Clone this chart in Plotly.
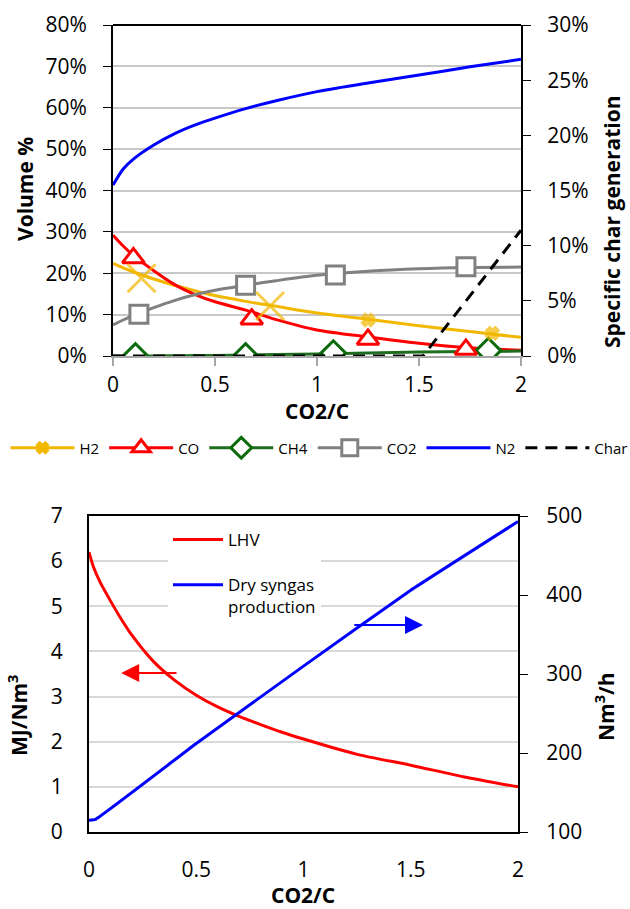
import plotly.graph_objects as go

# ---------------- data: gas composition vs CO2/C ----------------
x_model = [0, 0.05, 0.1, 0.2, 0.3, 0.4, 0.5, 0.65, 0.8, 1.0, 1.25, 1.5, 1.75, 2.0]
h2_model = [22.4, 21.3, 20.3, 18.6, 17.1, 15.8, 14.6, 13.2, 12.0, 10.4, 8.9, 7.3, 5.9, 4.5]
co_model = [29.2, 26.6, 24.3, 20.6, 17.3, 14.9, 13.1, 11.1, 8.8, 6.3, 4.6, 3.1, 2.0, 1.4]
ch4_model = [0, 0, 0, 0.02, 0.05, 0.1, 0.15, 0.25, 0.35, 0.5, 0.75, 0.95, 1.1, 1.2]
co2_model = [7.5, 8.7, 9.8, 11.7, 13.4, 14.8, 15.9, 17.1, 18.2, 19.5, 20.5, 21.1, 21.4, 21.5]
n2_model = [41.3, 45.2, 47.6, 51.0, 53.7, 55.8, 57.5, 59.8, 61.7, 63.9, 66.0, 67.9, 69.9, 71.7]

char_x = [0, 0.5, 1.0, 1.52, 2.0]
char_gen = [0, 0, 0, 0, 11.4]

h2_pts_x = [0.14, 0.77, 1.25, 1.86]
h2_pts_y = [18.8, 12.1, 8.7, 5.5]
co_pts_x = [0.10, 0.68, 1.25, 1.73]
co_pts_y = [23.7, 8.9, 4.0, 1.6]
ch4_pts_x = [0.11, 0.65, 1.08, 1.84]
ch4_pts_y = [0, 0, 0.7, 1.3]
co2_pts_x = [0.127, 0.65, 1.09, 1.73]
co2_pts_y = [10.1, 17.1, 19.6, 21.6]

# ---------------- data: LHV and dry syngas vs CO2/C ----------------
x_lhv = [0, 0.02, 0.05, 0.1, 0.15, 0.2, 0.3, 0.4, 0.5, 0.6, 0.7, 0.8, 0.9, 1.0, 1.25, 1.5, 1.75, 2.0]
lhv = [6.2, 5.88, 5.55, 5.12, 4.72, 4.36, 3.78, 3.36, 3.03, 2.77, 2.56, 2.38, 2.21, 2.06, 1.72, 1.48, 1.22, 1.0]
x_syngas = [0, 0.03, 0.5, 1.0, 1.5, 2.0]
syngas = [115, 116, 212, 310, 406, 493]

x_ticks = [0, 0.5, 1, 1.5, 2]
x_ticktext = ["0", "0.5", "1", "1.5", "2"]

FONT = "Open Sans, Calibri, sans-serif"
YELLOW = "#F2B800"
RED = "#FF0000"
GREEN = "#1F6E1F"
GREEN_MK = "#0B6B0B"
GRAY = "#808080"
BLUE = "#0000FF"
W, H = 630, 909


def px_x(p):
    return p / W


def px_y(p):
    return 1 - p / H


fig = go.Figure()

# ---- top panel: model curves ----
curves = [
    (h2_model, YELLOW), (co_model, RED), (ch4_model, GREEN),
    (co2_model, GRAY), (n2_model, BLUE),
]
for ys, col in curves:
    fig.add_trace(go.Scatter(x=x_model, y=ys, mode="lines",
                             line=dict(color=col, width=3, shape="spline", smoothing=0.8),
                             showlegend=False, xaxis="x", yaxis="y", hoverinfo="skip"))

fig.add_trace(go.Scatter(x=char_x, y=char_gen, mode="lines",
                         line=dict(color="black", width=3, dash="12px,8px"),
                         showlegend=False, xaxis="x", yaxis="y2"))

# ---- top panel: markers ----
fig.add_trace(go.Scatter(x=ch4_pts_x, y=ch4_pts_y, mode="markers",
                         marker=dict(symbol="diamond", size=19, color="white",
                                     line=dict(color=GREEN_MK, width=3)),
                         showlegend=False, xaxis="x", yaxis="y"))
fig.add_trace(go.Scatter(x=co2_pts_x, y=co2_pts_y, mode="markers",
                         marker=dict(symbol="square", size=18, color="white",
                                     line=dict(color=GRAY, width=3)),
                         showlegend=False, xaxis="x", yaxis="y"))
fig.add_trace(go.Scatter(x=co_pts_x, y=co_pts_y, mode="markers",
                         marker=dict(symbol="triangle-up", size=19, color="white",
                                     line=dict(color=RED, width=3)),
                         showlegend=False, xaxis="x", yaxis="y"))
fig.add_trace(go.Scatter(x=h2_pts_x, y=h2_pts_y, mode="markers",
                         marker=dict(symbol=["x-thin", "x-thin", "x", "x"],
                                     size=[28, 28, 10, 10], color=YELLOW,
                                     line=dict(color=YELLOW, width=3)),
                         showlegend=False, xaxis="x", yaxis="y"))

# ---- top legend entries ----
legend_items = [
    ("H2", YELLOW, dict(symbol="x", size=10, color=YELLOW, line=dict(color=YELLOW, width=2)), "solid", "lines+markers"),
    ("CO", RED, dict(symbol="triangle-up", size=18, color="white", line=dict(color=RED, width=3)), "solid", "lines+markers"),
    ("CH4", GREEN, dict(symbol="diamond", size=18, color="white", line=dict(color=GREEN_MK, width=3)), "solid", "lines+markers"),
    ("CO2", GRAY, dict(symbol="square", size=16, color="white", line=dict(color=GRAY, width=3)), "solid", "lines+markers"),
    ("N2", BLUE, None, "solid", "lines"),
    ("Char", "black", None, "12px,8px", "lines"),
]
for name, col, mk, dash, mode in legend_items:
    kw = dict(x=[None], y=[None], mode=mode, name=name,
              line=dict(color=col, width=3, dash=dash),
              xaxis="x", yaxis="y", legend="legend")
    if mk:
        kw["marker"] = mk
    fig.add_trace(go.Scatter(**kw))

# ---- bottom panel ----
fig.add_trace(go.Scatter(x=x_lhv, y=lhv, mode="lines", name="LHV", legendgroup="lhv",
                         line=dict(color=RED, width=3, shape="spline", smoothing=0.6),
                         xaxis="x2", yaxis="y3", legend="legend2"))
fig.add_trace(go.Scatter(x=x_syngas, y=syngas, mode="lines", name="Dry syngas<br>production",
                         legendgroup="syngas",
                         line=dict(color=BLUE, width=3, shape="spline", smoothing=0.3),
                         xaxis="x2", yaxis="y4", legend="legend2"))

tick_font = dict(family=FONT, size=21, color="black")

fig.update_layout(
    width=W, height=H,
    margin=dict(l=0, r=0, t=0, b=0, autoexpand=False),
    paper_bgcolor="white", plot_bgcolor="white",
    font=dict(family=FONT, color="black"),
    xaxis=dict(domain=[px_x(113), px_x(521)], range=[0, 2], anchor="y", automargin=False,
               tickvals=x_ticks, ticktext=x_ticktext, tickfont=tick_font,
               showgrid=False, zeroline=False, showline=True, linecolor="#A6A6A6", linewidth=1.5,
               ticks="outside", ticklen=8, tickcolor="#A6A6A6", tickwidth=1.5,
               ticklabelstandoff=1),
    yaxis=dict(domain=[px_y(356), px_y(25)], range=[0, 80], anchor="x", automargin=False,
               dtick=10, ticksuffix="%", tickfont=tick_font,
               showgrid=True, gridcolor="#C8C8C8", gridwidth=1.5, zeroline=False,
               showline=True, linecolor="black", linewidth=2,
               ticks="outside", ticklen=8, tickcolor="black", ticklabelstandoff=12),
    yaxis2=dict(range=[0, 30], overlaying="y", side="right", anchor="x", automargin=False,
                dtick=5, ticksuffix="%", tickfont=tick_font, showgrid=False, zeroline=False,
                showline=True, linecolor="black", linewidth=2,
                ticks="outside", ticklen=8, tickcolor="black", ticklabelstandoff=12),
    xaxis2=dict(domain=[px_x(89), px_x(518)], range=[0, 2], anchor="y3", automargin=False,
                tickvals=x_ticks, ticktext=x_ticktext, tickfont=tick_font,
                showgrid=False, zeroline=False, showline=True, mirror=True,
                linecolor="black", linewidth=2, ticks="", ticklabelstandoff=18),
    yaxis3=dict(domain=[px_y(832), px_y(516)], range=[0, 7], anchor="x2", automargin=False,
                dtick=1, tickfont=tick_font, showgrid=True, gridcolor="#D9D9D9", gridwidth=1.5,
                zeroline=False, showline=True, linecolor="black", linewidth=2,
                ticks="", ticklabelstandoff=20),
    yaxis4=dict(range=[100, 500], overlaying="y3", side="right", anchor="x2", automargin=False,
                dtick=100, tickfont=tick_font, showgrid=False, zeroline=False,
                showline=True, linecolor="black", linewidth=2,
                ticks="outside", ticklen=8, tickcolor="black", ticklabelstandoff=14),
    legend=dict(orientation="h", x=px_x(319), xanchor="center", y=px_y(448), yanchor="middle",
                font=dict(family=FONT, size=15, color="black"), bgcolor="rgba(0,0,0,0)",
                itemwidth=64, traceorder="normal"),
    legend2=dict(orientation="v", x=px_x(168), xanchor="left", y=px_y(522), yanchor="top",
                 font=dict(family=FONT, size=17, color="black"), bgcolor="white",
                 itemwidth=50, traceorder="grouped", tracegroupgap=20, valign="top"),
)

# top border of the upper panel
fig.add_shape(type="line", xref="x domain", yref="y domain", x0=0, x1=1, y0=1, y1=1,
              line=dict(color="black", width=2))

title_font = dict(family=FONT, size=21, color="black", weight="bold")
annos = [
    dict(text="Volume %", x=px_x(25), y=px_y(189), textangle=-90),
    dict(text="Specific char generation", x=px_x(612), y=px_y(222), textangle=-90),
    dict(text="CO2/C", x=px_x(317), y=px_y(411), textangle=0),
    dict(text="MJ/Nm<sup>3</sup>", x=px_x(17), y=px_y(715), textangle=-90),
    dict(text="Nm<sup>3</sup>/h", x=px_x(604), y=px_y(707), textangle=-90),
    dict(text="CO2/C", x=px_x(303), y=px_y(895), textangle=0),
]
for a in annos:
    fig.add_annotation(xref="paper", yref="paper", showarrow=False,
                       xanchor="center", yanchor="middle", font=title_font, borderpad=0, **a)

# arrows pointing to the matching axis
fig.add_annotation(x=0.15, y=3.52, ax=0.415, ay=3.52, xref="x2", yref="y3",
                   axref="x2", ayref="y3", text="", showarrow=True,
                   arrowhead=2, arrowsize=1.8, arrowwidth=2, arrowcolor=RED)
fig.add_annotation(x=1.557, y=362, ax=1.23, ay=362, xref="x2", yref="y4",
                   axref="x2", ayref="y4", text="", showarrow=True,
                   arrowhead=2, arrowsize=1.8, arrowwidth=2, arrowcolor=BLUE)

fig.write_html("out.html")
